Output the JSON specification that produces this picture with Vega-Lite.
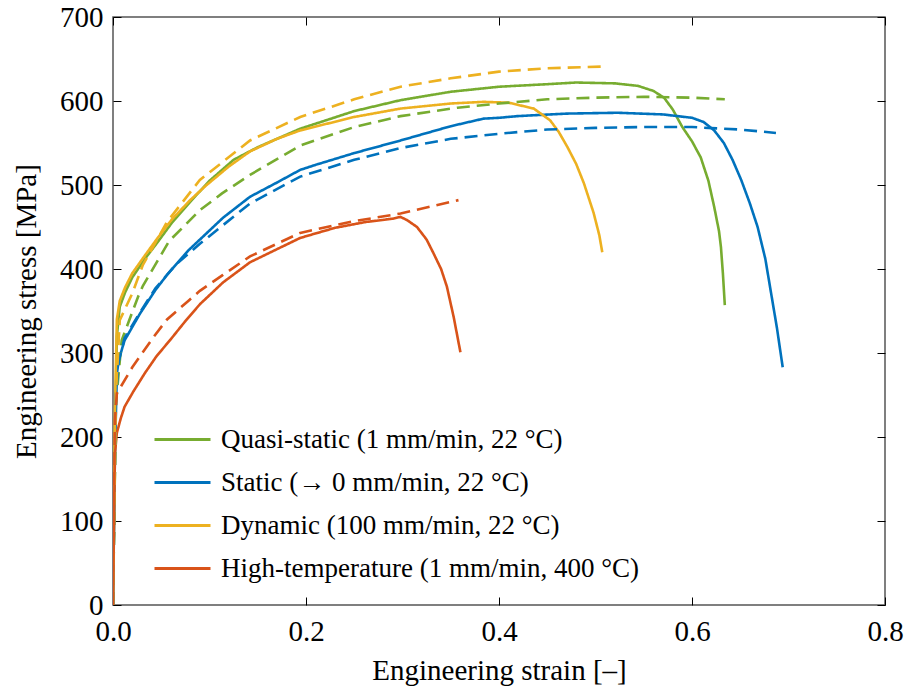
{
  "$schema": "https://vega.github.io/schema/vega-lite/v6.json",
  "width": 772,
  "height": 588,
  "autosize": {"type": "none"},
  "padding": {"left": 113, "top": 17, "right": 22, "bottom": 88},
  "background": "white",
  "config": {
    "font": "Liberation Serif",
    "view": {"stroke": "#555555", "strokeWidth": 1.5},
    "axis": {
      "labelFont": "Liberation Serif",
      "titleFont": "Liberation Serif",
      "labelFontSize": 29,
      "titleFontSize": 29,
      "labelColor": "black",
      "titleColor": "black",
      "titleFontWeight": "normal",
      "grid": false,
      "domain": false,
      "labelFlush": false,
      "tickColor": "black",
      "tickSize": -8,
      "tickWidth": 1
    },
    "legend": {
      "labelFont": "Liberation Serif",
      "labelFontSize": 27,
      "labelColor": "black",
      "labelLimit": 0
    }
  },
  "data": {"values": [
    {"s":"Quasi-static (1 mm/min, 22 °C)","k":"exp","x":0,"y":0},
    {"s":"Quasi-static (1 mm/min, 22 °C)","k":"exp","x":0.002,"y":200},
    {"s":"Quasi-static (1 mm/min, 22 °C)","k":"exp","x":0.004,"y":320},
    {"s":"Quasi-static (1 mm/min, 22 °C)","k":"exp","x":0.007,"y":355},
    {"s":"Quasi-static (1 mm/min, 22 °C)","k":"exp","x":0.0125,"y":372},
    {"s":"Quasi-static (1 mm/min, 22 °C)","k":"exp","x":0.02,"y":390},
    {"s":"Quasi-static (1 mm/min, 22 °C)","k":"exp","x":0.033,"y":412},
    {"s":"Quasi-static (1 mm/min, 22 °C)","k":"exp","x":0.045,"y":430},
    {"s":"Quasi-static (1 mm/min, 22 °C)","k":"exp","x":0.061,"y":455},
    {"s":"Quasi-static (1 mm/min, 22 °C)","k":"exp","x":0.08,"y":480},
    {"s":"Quasi-static (1 mm/min, 22 °C)","k":"exp","x":0.1,"y":505},
    {"s":"Quasi-static (1 mm/min, 22 °C)","k":"exp","x":0.125,"y":530},
    {"s":"Quasi-static (1 mm/min, 22 °C)","k":"exp","x":0.15,"y":545},
    {"s":"Quasi-static (1 mm/min, 22 °C)","k":"exp","x":0.194,"y":567},
    {"s":"Quasi-static (1 mm/min, 22 °C)","k":"exp","x":0.25,"y":588},
    {"s":"Quasi-static (1 mm/min, 22 °C)","k":"exp","x":0.298,"y":601},
    {"s":"Quasi-static (1 mm/min, 22 °C)","k":"exp","x":0.35,"y":611},
    {"s":"Quasi-static (1 mm/min, 22 °C)","k":"exp","x":0.4,"y":617},
    {"s":"Quasi-static (1 mm/min, 22 °C)","k":"exp","x":0.45,"y":620},
    {"s":"Quasi-static (1 mm/min, 22 °C)","k":"exp","x":0.48,"y":622},
    {"s":"Quasi-static (1 mm/min, 22 °C)","k":"exp","x":0.52,"y":621},
    {"s":"Quasi-static (1 mm/min, 22 °C)","k":"exp","x":0.544,"y":618},
    {"s":"Quasi-static (1 mm/min, 22 °C)","k":"exp","x":0.56,"y":612},
    {"s":"Quasi-static (1 mm/min, 22 °C)","k":"exp","x":0.571,"y":604},
    {"s":"Quasi-static (1 mm/min, 22 °C)","k":"exp","x":0.58,"y":590},
    {"s":"Quasi-static (1 mm/min, 22 °C)","k":"exp","x":0.59,"y":569},
    {"s":"Quasi-static (1 mm/min, 22 °C)","k":"exp","x":0.6,"y":552},
    {"s":"Quasi-static (1 mm/min, 22 °C)","k":"exp","x":0.609,"y":533},
    {"s":"Quasi-static (1 mm/min, 22 °C)","k":"exp","x":0.617,"y":505},
    {"s":"Quasi-static (1 mm/min, 22 °C)","k":"exp","x":0.623,"y":474},
    {"s":"Quasi-static (1 mm/min, 22 °C)","k":"exp","x":0.628,"y":445},
    {"s":"Quasi-static (1 mm/min, 22 °C)","k":"exp","x":0.63,"y":426},
    {"s":"Quasi-static (1 mm/min, 22 °C)","k":"exp","x":0.632,"y":395},
    {"s":"Quasi-static (1 mm/min, 22 °C)","k":"exp","x":0.634,"y":357},

    {"s":"Static (→ 0 mm/min, 22 °C)","k":"exp","x":0,"y":0},
    {"s":"Static (→ 0 mm/min, 22 °C)","k":"exp","x":0.002,"y":180},
    {"s":"Static (→ 0 mm/min, 22 °C)","k":"exp","x":0.004,"y":275},
    {"s":"Static (→ 0 mm/min, 22 °C)","k":"exp","x":0.006,"y":292},
    {"s":"Static (→ 0 mm/min, 22 °C)","k":"exp","x":0.012,"y":315},
    {"s":"Static (→ 0 mm/min, 22 °C)","k":"exp","x":0.028,"y":347},
    {"s":"Static (→ 0 mm/min, 22 °C)","k":"exp","x":0.044,"y":375},
    {"s":"Static (→ 0 mm/min, 22 °C)","k":"exp","x":0.056,"y":393},
    {"s":"Static (→ 0 mm/min, 22 °C)","k":"exp","x":0.078,"y":422},
    {"s":"Static (→ 0 mm/min, 22 °C)","k":"exp","x":0.09,"y":435},
    {"s":"Static (→ 0 mm/min, 22 °C)","k":"exp","x":0.114,"y":461},
    {"s":"Static (→ 0 mm/min, 22 °C)","k":"exp","x":0.142,"y":486},
    {"s":"Static (→ 0 mm/min, 22 °C)","k":"exp","x":0.17,"y":503},
    {"s":"Static (→ 0 mm/min, 22 °C)","k":"exp","x":0.194,"y":518},
    {"s":"Static (→ 0 mm/min, 22 °C)","k":"exp","x":0.21,"y":524},
    {"s":"Static (→ 0 mm/min, 22 °C)","k":"exp","x":0.25,"y":538},
    {"s":"Static (→ 0 mm/min, 22 °C)","k":"exp","x":0.298,"y":553},
    {"s":"Static (→ 0 mm/min, 22 °C)","k":"exp","x":0.35,"y":570},
    {"s":"Static (→ 0 mm/min, 22 °C)","k":"exp","x":0.384,"y":579},
    {"s":"Static (→ 0 mm/min, 22 °C)","k":"exp","x":0.4,"y":580},
    {"s":"Static (→ 0 mm/min, 22 °C)","k":"exp","x":0.419,"y":582},
    {"s":"Static (→ 0 mm/min, 22 °C)","k":"exp","x":0.47,"y":585},
    {"s":"Static (→ 0 mm/min, 22 °C)","k":"exp","x":0.523,"y":586},
    {"s":"Static (→ 0 mm/min, 22 °C)","k":"exp","x":0.57,"y":584},
    {"s":"Static (→ 0 mm/min, 22 °C)","k":"exp","x":0.6,"y":580},
    {"s":"Static (→ 0 mm/min, 22 °C)","k":"exp","x":0.612,"y":575},
    {"s":"Static (→ 0 mm/min, 22 °C)","k":"exp","x":0.623,"y":565},
    {"s":"Static (→ 0 mm/min, 22 °C)","k":"exp","x":0.633,"y":550},
    {"s":"Static (→ 0 mm/min, 22 °C)","k":"exp","x":0.642,"y":530},
    {"s":"Static (→ 0 mm/min, 22 °C)","k":"exp","x":0.651,"y":506},
    {"s":"Static (→ 0 mm/min, 22 °C)","k":"exp","x":0.66,"y":478},
    {"s":"Static (→ 0 mm/min, 22 °C)","k":"exp","x":0.668,"y":450},
    {"s":"Static (→ 0 mm/min, 22 °C)","k":"exp","x":0.676,"y":412},
    {"s":"Static (→ 0 mm/min, 22 °C)","k":"exp","x":0.682,"y":371},
    {"s":"Static (→ 0 mm/min, 22 °C)","k":"exp","x":0.688,"y":330},
    {"s":"Static (→ 0 mm/min, 22 °C)","k":"exp","x":0.694,"y":283},

    {"s":"Dynamic (100 mm/min, 22 °C)","k":"exp","x":0,"y":0},
    {"s":"Dynamic (100 mm/min, 22 °C)","k":"exp","x":0.002,"y":230},
    {"s":"Dynamic (100 mm/min, 22 °C)","k":"exp","x":0.004,"y":340},
    {"s":"Dynamic (100 mm/min, 22 °C)","k":"exp","x":0.007,"y":362},
    {"s":"Dynamic (100 mm/min, 22 °C)","k":"exp","x":0.0125,"y":378},
    {"s":"Dynamic (100 mm/min, 22 °C)","k":"exp","x":0.02,"y":395},
    {"s":"Dynamic (100 mm/min, 22 °C)","k":"exp","x":0.033,"y":416},
    {"s":"Dynamic (100 mm/min, 22 °C)","k":"exp","x":0.045,"y":435},
    {"s":"Dynamic (100 mm/min, 22 °C)","k":"exp","x":0.061,"y":459},
    {"s":"Dynamic (100 mm/min, 22 °C)","k":"exp","x":0.08,"y":482},
    {"s":"Dynamic (100 mm/min, 22 °C)","k":"exp","x":0.095,"y":498},
    {"s":"Dynamic (100 mm/min, 22 °C)","k":"exp","x":0.12,"y":522},
    {"s":"Dynamic (100 mm/min, 22 °C)","k":"exp","x":0.142,"y":540},
    {"s":"Dynamic (100 mm/min, 22 °C)","k":"exp","x":0.17,"y":555},
    {"s":"Dynamic (100 mm/min, 22 °C)","k":"exp","x":0.194,"y":565},
    {"s":"Dynamic (100 mm/min, 22 °C)","k":"exp","x":0.25,"y":581},
    {"s":"Dynamic (100 mm/min, 22 °C)","k":"exp","x":0.298,"y":591},
    {"s":"Dynamic (100 mm/min, 22 °C)","k":"exp","x":0.35,"y":597},
    {"s":"Dynamic (100 mm/min, 22 °C)","k":"exp","x":0.384,"y":599},
    {"s":"Dynamic (100 mm/min, 22 °C)","k":"exp","x":0.41,"y":598},
    {"s":"Dynamic (100 mm/min, 22 °C)","k":"exp","x":0.436,"y":591},
    {"s":"Dynamic (100 mm/min, 22 °C)","k":"exp","x":0.453,"y":577},
    {"s":"Dynamic (100 mm/min, 22 °C)","k":"exp","x":0.462,"y":563},
    {"s":"Dynamic (100 mm/min, 22 °C)","k":"exp","x":0.471,"y":545},
    {"s":"Dynamic (100 mm/min, 22 °C)","k":"exp","x":0.48,"y":525},
    {"s":"Dynamic (100 mm/min, 22 °C)","k":"exp","x":0.488,"y":502},
    {"s":"Dynamic (100 mm/min, 22 °C)","k":"exp","x":0.498,"y":467},
    {"s":"Dynamic (100 mm/min, 22 °C)","k":"exp","x":0.504,"y":440},
    {"s":"Dynamic (100 mm/min, 22 °C)","k":"exp","x":0.507,"y":420},

    {"s":"High-temperature (1 mm/min, 400 °C)","k":"exp","x":0,"y":0},
    {"s":"High-temperature (1 mm/min, 400 °C)","k":"exp","x":0.001,"y":100},
    {"s":"High-temperature (1 mm/min, 400 °C)","k":"exp","x":0.002,"y":180},
    {"s":"High-temperature (1 mm/min, 400 °C)","k":"exp","x":0.004,"y":205},
    {"s":"High-temperature (1 mm/min, 400 °C)","k":"exp","x":0.008,"y":222},
    {"s":"High-temperature (1 mm/min, 400 °C)","k":"exp","x":0.012,"y":236},
    {"s":"High-temperature (1 mm/min, 400 °C)","k":"exp","x":0.021,"y":254},
    {"s":"High-temperature (1 mm/min, 400 °C)","k":"exp","x":0.033,"y":276},
    {"s":"High-temperature (1 mm/min, 400 °C)","k":"exp","x":0.045,"y":296},
    {"s":"High-temperature (1 mm/min, 400 °C)","k":"exp","x":0.061,"y":318},
    {"s":"High-temperature (1 mm/min, 400 °C)","k":"exp","x":0.075,"y":338},
    {"s":"High-temperature (1 mm/min, 400 °C)","k":"exp","x":0.09,"y":358},
    {"s":"High-temperature (1 mm/min, 400 °C)","k":"exp","x":0.114,"y":384},
    {"s":"High-temperature (1 mm/min, 400 °C)","k":"exp","x":0.142,"y":408},
    {"s":"High-temperature (1 mm/min, 400 °C)","k":"exp","x":0.194,"y":437},
    {"s":"High-temperature (1 mm/min, 400 °C)","k":"exp","x":0.23,"y":449},
    {"s":"High-temperature (1 mm/min, 400 °C)","k":"exp","x":0.262,"y":456},
    {"s":"High-temperature (1 mm/min, 400 °C)","k":"exp","x":0.277,"y":458},
    {"s":"High-temperature (1 mm/min, 400 °C)","k":"exp","x":0.29,"y":460},
    {"s":"High-temperature (1 mm/min, 400 °C)","k":"exp","x":0.298,"y":462},
    {"s":"High-temperature (1 mm/min, 400 °C)","k":"exp","x":0.305,"y":458},
    {"s":"High-temperature (1 mm/min, 400 °C)","k":"exp","x":0.315,"y":450},
    {"s":"High-temperature (1 mm/min, 400 °C)","k":"exp","x":0.325,"y":435},
    {"s":"High-temperature (1 mm/min, 400 °C)","k":"exp","x":0.332,"y":419},
    {"s":"High-temperature (1 mm/min, 400 °C)","k":"exp","x":0.34,"y":400},
    {"s":"High-temperature (1 mm/min, 400 °C)","k":"exp","x":0.346,"y":379},
    {"s":"High-temperature (1 mm/min, 400 °C)","k":"exp","x":0.353,"y":343},
    {"s":"High-temperature (1 mm/min, 400 °C)","k":"exp","x":0.36,"y":301},

    {"s":"Quasi-static (1 mm/min, 22 °C)","k":"sim","x":0,"y":0},
    {"s":"Quasi-static (1 mm/min, 22 °C)","k":"sim","x":0.003,"y":240},
    {"s":"Quasi-static (1 mm/min, 22 °C)","k":"sim","x":0.009,"y":315},
    {"s":"Quasi-static (1 mm/min, 22 °C)","k":"sim","x":0.026,"y":367},
    {"s":"Quasi-static (1 mm/min, 22 °C)","k":"sim","x":0.031,"y":380},
    {"s":"Quasi-static (1 mm/min, 22 °C)","k":"sim","x":0.058,"y":433},
    {"s":"Quasi-static (1 mm/min, 22 °C)","k":"sim","x":0.09,"y":470},
    {"s":"Quasi-static (1 mm/min, 22 °C)","k":"sim","x":0.113,"y":490},
    {"s":"Quasi-static (1 mm/min, 22 °C)","k":"sim","x":0.142,"y":512},
    {"s":"Quasi-static (1 mm/min, 22 °C)","k":"sim","x":0.194,"y":547},
    {"s":"Quasi-static (1 mm/min, 22 °C)","k":"sim","x":0.25,"y":569},
    {"s":"Quasi-static (1 mm/min, 22 °C)","k":"sim","x":0.298,"y":582},
    {"s":"Quasi-static (1 mm/min, 22 °C)","k":"sim","x":0.357,"y":592},
    {"s":"Quasi-static (1 mm/min, 22 °C)","k":"sim","x":0.4,"y":597},
    {"s":"Quasi-static (1 mm/min, 22 °C)","k":"sim","x":0.45,"y":602},
    {"s":"Quasi-static (1 mm/min, 22 °C)","k":"sim","x":0.5,"y":604},
    {"s":"Quasi-static (1 mm/min, 22 °C)","k":"sim","x":0.55,"y":605},
    {"s":"Quasi-static (1 mm/min, 22 °C)","k":"sim","x":0.6,"y":604},
    {"s":"Quasi-static (1 mm/min, 22 °C)","k":"sim","x":0.634,"y":602},

    {"s":"Static (→ 0 mm/min, 22 °C)","k":"sim","x":0,"y":0},
    {"s":"Static (→ 0 mm/min, 22 °C)","k":"sim","x":0.003,"y":250},
    {"s":"Static (→ 0 mm/min, 22 °C)","k":"sim","x":0.006,"y":290},
    {"s":"Static (→ 0 mm/min, 22 °C)","k":"sim","x":0.012,"y":318},
    {"s":"Static (→ 0 mm/min, 22 °C)","k":"sim","x":0.03,"y":352},
    {"s":"Static (→ 0 mm/min, 22 °C)","k":"sim","x":0.044,"y":377},
    {"s":"Static (→ 0 mm/min, 22 °C)","k":"sim","x":0.065,"y":405},
    {"s":"Static (→ 0 mm/min, 22 °C)","k":"sim","x":0.09,"y":430},
    {"s":"Static (→ 0 mm/min, 22 °C)","k":"sim","x":0.142,"y":478},
    {"s":"Static (→ 0 mm/min, 22 °C)","k":"sim","x":0.194,"y":510},
    {"s":"Static (→ 0 mm/min, 22 °C)","k":"sim","x":0.25,"y":530},
    {"s":"Static (→ 0 mm/min, 22 °C)","k":"sim","x":0.298,"y":544},
    {"s":"Static (→ 0 mm/min, 22 °C)","k":"sim","x":0.35,"y":555},
    {"s":"Static (→ 0 mm/min, 22 °C)","k":"sim","x":0.4,"y":561},
    {"s":"Static (→ 0 mm/min, 22 °C)","k":"sim","x":0.45,"y":566},
    {"s":"Static (→ 0 mm/min, 22 °C)","k":"sim","x":0.5,"y":568},
    {"s":"Static (→ 0 mm/min, 22 °C)","k":"sim","x":0.55,"y":569},
    {"s":"Static (→ 0 mm/min, 22 °C)","k":"sim","x":0.6,"y":569},
    {"s":"Static (→ 0 mm/min, 22 °C)","k":"sim","x":0.65,"y":566},
    {"s":"Static (→ 0 mm/min, 22 °C)","k":"sim","x":0.687,"y":562},

    {"s":"Dynamic (100 mm/min, 22 °C)","k":"sim","x":0,"y":0},
    {"s":"Dynamic (100 mm/min, 22 °C)","k":"sim","x":0.003,"y":250},
    {"s":"Dynamic (100 mm/min, 22 °C)","k":"sim","x":0.007,"y":339},
    {"s":"Dynamic (100 mm/min, 22 °C)","k":"sim","x":0.02,"y":371},
    {"s":"Dynamic (100 mm/min, 22 °C)","k":"sim","x":0.031,"y":405},
    {"s":"Dynamic (100 mm/min, 22 °C)","k":"sim","x":0.056,"y":456},
    {"s":"Dynamic (100 mm/min, 22 °C)","k":"sim","x":0.09,"y":506},
    {"s":"Dynamic (100 mm/min, 22 °C)","k":"sim","x":0.142,"y":553},
    {"s":"Dynamic (100 mm/min, 22 °C)","k":"sim","x":0.194,"y":581},
    {"s":"Dynamic (100 mm/min, 22 °C)","k":"sim","x":0.25,"y":602},
    {"s":"Dynamic (100 mm/min, 22 °C)","k":"sim","x":0.298,"y":617},
    {"s":"Dynamic (100 mm/min, 22 °C)","k":"sim","x":0.35,"y":627},
    {"s":"Dynamic (100 mm/min, 22 °C)","k":"sim","x":0.4,"y":635},
    {"s":"Dynamic (100 mm/min, 22 °C)","k":"sim","x":0.45,"y":639},
    {"s":"Dynamic (100 mm/min, 22 °C)","k":"sim","x":0.507,"y":641},

    {"s":"High-temperature (1 mm/min, 400 °C)","k":"sim","x":0,"y":0},
    {"s":"High-temperature (1 mm/min, 400 °C)","k":"sim","x":0.002,"y":220},
    {"s":"High-temperature (1 mm/min, 400 °C)","k":"sim","x":0.004,"y":252},
    {"s":"High-temperature (1 mm/min, 400 °C)","k":"sim","x":0.02,"y":283},
    {"s":"High-temperature (1 mm/min, 400 °C)","k":"sim","x":0.042,"y":319},
    {"s":"High-temperature (1 mm/min, 400 °C)","k":"sim","x":0.056,"y":340},
    {"s":"High-temperature (1 mm/min, 400 °C)","k":"sim","x":0.078,"y":362},
    {"s":"High-temperature (1 mm/min, 400 °C)","k":"sim","x":0.09,"y":374},
    {"s":"High-temperature (1 mm/min, 400 °C)","k":"sim","x":0.114,"y":393},
    {"s":"High-temperature (1 mm/min, 400 °C)","k":"sim","x":0.142,"y":415},
    {"s":"High-temperature (1 mm/min, 400 °C)","k":"sim","x":0.194,"y":443},
    {"s":"High-temperature (1 mm/min, 400 °C)","k":"sim","x":0.25,"y":457},
    {"s":"High-temperature (1 mm/min, 400 °C)","k":"sim","x":0.298,"y":466},
    {"s":"High-temperature (1 mm/min, 400 °C)","k":"sim","x":0.358,"y":482}
  ]},
  "layer": [
    {
      "mark": {"type": "line", "strokeWidth": 2.6, "clip": true},
      "encoding": {
        "x": {"field": "x", "type": "quantitative",
              "scale": {"domain": [0, 0.8], "nice": false, "zero": false},
              "axis": {"values": [0, 0.2, 0.4, 0.6, 0.8], "format": ".1f", "title": "Engineering strain [–]", "labelFlush": false, "labelPadding": 20, "titlePadding": 10, "labelFontSize": 29, "titleFontSize": 29, "labelFont": "Liberation Serif", "titleFont": "Liberation Serif"}},
        "y": {"field": "y", "type": "quantitative",
              "scale": {"domain": [0, 700], "nice": false},
              "axis": {"values": [0, 100, 200, 300, 400, 500, 600, 700], "title": "Engineering stress [MPa]", "labelFlush": false, "labelPadding": 18, "titlePadding": 18, "labelFontSize": 29, "titleFontSize": 29, "labelFont": "Liberation Serif", "titleFont": "Liberation Serif"}},
        "color": {"field": "s", "type": "nominal",
                  "scale": {"domain": ["Quasi-static (1 mm/min, 22 °C)", "Static (→ 0 mm/min, 22 °C)", "Dynamic (100 mm/min, 22 °C)", "High-temperature (1 mm/min, 400 °C)"],
                            "range": ["#77AC30", "#0072BD", "#EDB120", "#D95319"]},
                  "legend": {"title": null, "orient": "none", "legendX": 40, "legendY": 393, "symbolType": "stroke", "symbolSize": 3136, "symbolStrokeWidth": 3, "labelOffset": 9, "rowPadding": 0, "labelFontSize": 27, "labelFont": "Liberation Serif", "labelLimit": 0}},
        "strokeDash": {"field": "k", "type": "nominal",
                       "scale": {"domain": ["exp", "sim"], "range": [[1, 0], [13, 7]]},
                       "legend": null}
      }
    },
    {
      "mark": {"type": "line", "strokeOpacity": 0},
      "encoding": {
        "x": {"field": "x", "type": "quantitative", "axis": {"orient": "top", "values": [0, 0.2, 0.4, 0.6, 0.8], "labels": false, "title": null}},
        "y": {"field": "y", "type": "quantitative", "axis": {"orient": "right", "values": [0, 100, 200, 300, 400, 500, 600, 700], "labels": false, "title": null}},
        "detail": {"field": "s"}
      }
    }
  ],
  "resolve": {"axis": {"x": "independent", "y": "independent"}}
}
